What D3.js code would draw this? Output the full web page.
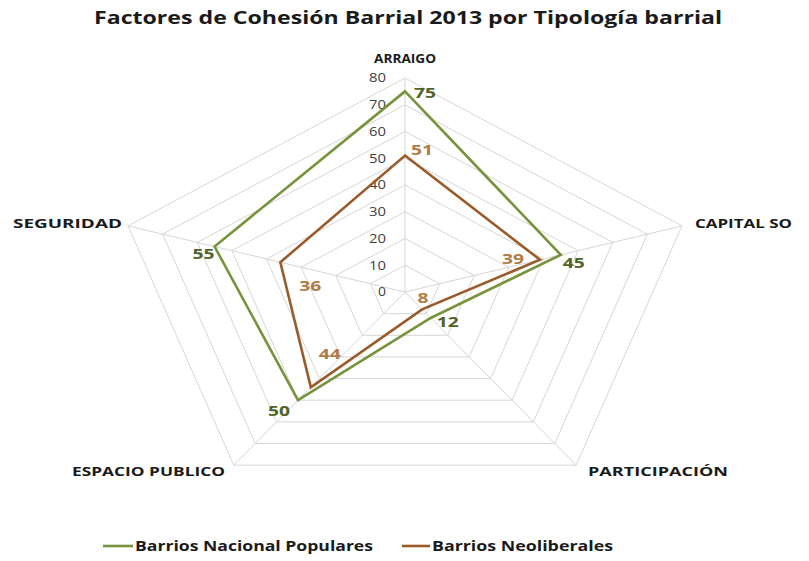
<!DOCTYPE html>
<html>
<head>
<meta charset="utf-8">
<script src="https://cdn.jsdelivr.net/npm/d3@7"></script>
<style>
  html, body { margin: 0; padding: 0; background: #fff; }
  svg { display: block; }
  text { font-family: "Open Sans", "Liberation Sans", sans-serif; font-weight: bold; }
</style>
</head>
<body>
<svg id="chart" width="809" height="561"></svg>
<script>
// ---- data ----
const categories = ["ARRAIGO", "CAPITAL SO", "PARTICIPACIÓN", "ESPACIO PUBLICO", "SEGURIDAD"];
const seriesNames = ["Barrios Nacional Populares", "Barrios Neoliberales"];
const nacionalPopulares = [75, 45, 12, 50, 55];
const neoliberales = [51, 39, 8, 44, 36];
const tickValues = [0, 10, 20, 30, 40, 50, 60, 70, 80];
const title = "Factores de Cohesión Barrial 2013 por Tipología barrial";

// ---- layout ----
const svg = d3.select("#chart");
const cx = 405, cy = 292, R = 214, SX = 1.361;
const r = d3.scaleLinear().domain([0, 80]).range([0, R]);
const angle = d3.scalePoint().domain(categories).range([0, 2 * Math.PI * (categories.length - 1) / categories.length]);
const px = (cat, v) => cx + SX * r(v) * Math.sin(angle(cat));
const py = (cat, v) => cy - r(v) * Math.cos(angle(cat));

const colors = { line: ["#77933C", "#9A5A2A"], label: ["#4F6228", "#B27A45"] };

// grid polygons
const g = svg.append("g");
tickValues.filter(t => t > 0).forEach(t => {
  g.append("polygon")
    .attr("points", categories.map(c => [px(c, t), py(c, t)].join(",")).join(" "))
    .attr("fill", "none").attr("stroke", "#d6d6d6").attr("stroke-width", 1);
});
// spokes
categories.forEach(c => {
  g.append("line")
    .attr("x1", cx).attr("y1", cy).attr("x2", px(c, 80)).attr("y2", py(c, 80))
    .attr("stroke", "#d6d6d6").attr("stroke-width", 1);
});

// tick labels
g.selectAll("text.tick").data(tickValues).join("text")
  .attr("class", "tick")
  .attr("x", cx - 19).attr("y", d => cy - r(d))
  .attr("dy", "0.36em")
  .attr("text-anchor", "end")
  .attr("font-size", 12).style("font-weight", "normal")
  .attr("fill", "#404040")
  .attr("textLength", d => d === 0 ? 8 : 17).attr("lengthAdjust", "spacingAndGlyphs")
  .text(d => d);

// series lines
const seriesData = [nacionalPopulares, neoliberales];
const line = d3.line().x(d => px(d.c, d.v)).y(d => py(d.c, d.v)).curve(d3.curveLinearClosed);
seriesData.forEach((vals, i) => {
  const pts = categories.map((c, k) => ({ c, v: vals[k] }));
  svg.append("path").attr("d", line(pts))
    .attr("fill", "none").attr("stroke", colors.line[i]).attr("stroke-width", 2.6)
    .attr("stroke-linejoin", "miter");
});

// data label offsets (layout only)
const labelOffsets = [
  [[20, 1], [13, 8], [17, 4], [-19, 10], [-11, 7]],
  [[17, -6], [-27, -1], [1, -12], [19, -34], [30, 23]]
];
seriesData.forEach((vals, i) => {
  categories.forEach((c, k) => {
    const v = vals[k];
    svg.append("text")
      .attr("x", px(c, v) + labelOffsets[i][k][0])
      .attr("y", py(c, v) + labelOffsets[i][k][1])
      .attr("dy", "0.36em").attr("text-anchor", "middle")
      .attr("font-size", 15).attr("fill", colors.label[i])
      .attr("textLength", String(v).length * 11).attr("lengthAdjust", "spacingAndGlyphs")
      .text(v);
  });
});

// axis category labels
const catLabelPos = [
  { x: 405, y: 63, anchor: "middle", w: 62 },
  { x: 695, y: 228, anchor: "start", w: 97 },
  { x: 588, y: 476, anchor: "start", w: 140 },
  { x: 225, y: 476, anchor: "end", w: 153 },
  { x: 122, y: 228, anchor: "end", w: 109 }
];
categories.forEach((c, k) => {
  const p = catLabelPos[k];
  svg.append("text").attr("x", p.x).attr("y", p.y)
    .attr("text-anchor", p.anchor).attr("font-size", 13).attr("fill", "#1a1a1a")
    .attr("textLength", p.w).attr("lengthAdjust", "spacingAndGlyphs")
    .text(c);
});

// title
svg.append("text").attr("x", 408).attr("y", 24).attr("text-anchor", "middle")
  .attr("font-size", 17).attr("fill", "#1a1a1a")
  .attr("textLength", 628).attr("lengthAdjust", "spacingAndGlyphs")
  .text(title);

// legend
const legendPos = [{ x1: 103, x2: 133, tx: 135, w: 238 }, { x1: 402, x2: 430, tx: 432, w: 181 }];
seriesNames.forEach((name, i) => {
  const p = legendPos[i];
  svg.append("line").attr("x1", p.x1).attr("x2", p.x2).attr("y1", 546).attr("y2", 546)
    .attr("stroke", colors.line[i]).attr("stroke-width", 2.6);
  svg.append("text").attr("x", p.tx).attr("y", 551)
    .attr("font-size", 14.5).attr("fill", "#1a1a1a")
    .attr("textLength", p.w).attr("lengthAdjust", "spacingAndGlyphs")
    .text(name);
});
</script>
</body>
</html>
